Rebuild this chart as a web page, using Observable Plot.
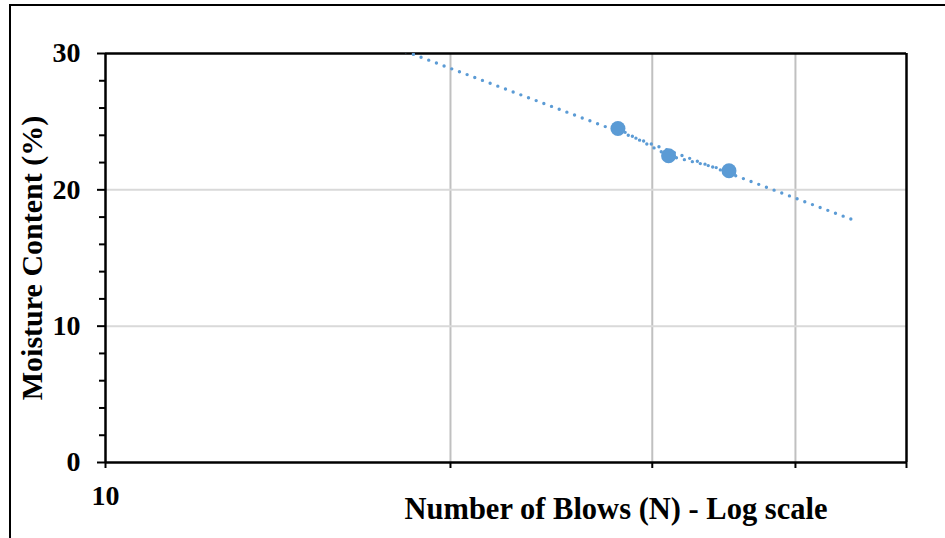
<!DOCTYPE html>
<html>
<head>
<meta charset="utf-8">
<script src="https://cdn.jsdelivr.net/npm/d3@7"></script>
<script src="https://cdn.jsdelivr.net/npm/@observablehq/plot@0.6"></script>
<style>
  html, body { margin: 0; padding: 0; background: #fff; overflow: hidden; width: 945px; height: 538px; }
  #chart { position: absolute; left: 0; top: 0; }
  #outer { position: absolute; left: 9px; top: 4px; width: 2000px; height: 2000px; border: 2px solid #000; pointer-events: none; }
</style>
</head>
<body>
<div id="chart"></div>
<div id="outer"></div>
<script>
// Data
const blows = [28, 31, 35];
const moisture = [24.5, 22.5, 21.4];
const xTicks = [10, 20, 30, 40, 50];
const xTickLabels = ["10", "", "", "", ""];
const yTicks = [0, 10, 20, 30];
const yMinorTicks = [2, 4, 6, 8, 12, 14, 16, 18, 22, 24, 26, 28];
const trendRange = [18, 45];   // backward/forward forecast extent of the trendline
const xTitle = "Number of Blows (N) - Log scale";
const yTitle = "Moisture Content (%)";

const points = blows.map((b, i) => ({blows: b, moisture: moisture[i]}));

// Logarithmic trendline y = a + b ln(x), fitted to the data
const lx = blows.map(Math.log);
const mx = d3.mean(lx), my = d3.mean(moisture);
const sxy = d3.sum(lx, (v, i) => (v - mx) * (moisture[i] - my));
const sxx = d3.sum(lx, v => (v - mx) ** 2);
const slope = sxy / sxx, intercept = my - slope * mx;
const trend = trendRange.map(x => ({blows: x, moisture: intercept + slope * Math.log(x)}));

const blue = "#5B9BD5";
const dotted = {stroke: blue, strokeWidth: 3.4, strokeDasharray: "0 8.2", strokeLinecap: "round"};
const font = "'Liberation Serif', 'Times New Roman', serif";

const chart = Plot.plot({
  width: 945,
  height: 538,
  marginLeft: 105,
  marginRight: 39,
  marginTop: 53,
  marginBottom: 76,
  style: {fontFamily: font, fontSize: "28px", fontWeight: "bold", color: "#000", background: "transparent"},
  x: {type: "log", domain: [10, 50]},
  y: {domain: [0, 30]},
  marks: [
    Plot.ruleX([20, 30, 40], {stroke: "#C0C0C0", strokeWidth: 2}),
    Plot.ruleY([10, 20], {stroke: "#D9D9D9", strokeWidth: 2}),
    Plot.ruleY([30], {stroke: "#000", strokeWidth: 2.5}),
    Plot.ruleX([50], {stroke: "#000", strokeWidth: 2.5}),
    Plot.axisY({ticks: yMinorTicks, tickSize: 6, strokeWidth: 2, tickFormat: () => "", label: null}),
    Plot.axisY({ticks: yTicks, tickSize: 8, tickPadding: 17, strokeWidth: 2, fontSize: 28, fontWeight: "bold",
      tickFormat: d => String(d), label: null}),
    Plot.axisX({ticks: xTicks, tickSize: 6, tickPadding: 17, strokeWidth: 2, fontSize: 28, fontWeight: "bold",
      tickFormat: d => xTickLabels[xTicks.indexOf(d)] ?? "", label: null}),
    Plot.ruleX([10], {stroke: "#000", strokeWidth: 2.5}),
    Plot.ruleY([0], {stroke: "#000", strokeWidth: 2.5, x1: 10, x2: 50}),
    Plot.line(trend, {x: "blows", y: "moisture", ...dotted, clip: true}),
    Plot.line(points, {x: "blows", y: "moisture", ...dotted}),
    Plot.dot(points, {x: "blows", y: "moisture", r: 7.5, fill: blue, stroke: "none"}),
    Plot.text([xTitle], {frameAnchor: "bottom", dx: 110, dy: 56, lineAnchor: "bottom", fontSize: 30.5, fontWeight: "bold"}),
    Plot.text([yTitle], {frameAnchor: "left", dx: -73, rotate: -90, textAnchor: "middle", lineAnchor: "middle", fontSize: 30, fontWeight: "bold"})
  ]
});
document.getElementById("chart").appendChild(chart);
</script>
</body>
</html>
